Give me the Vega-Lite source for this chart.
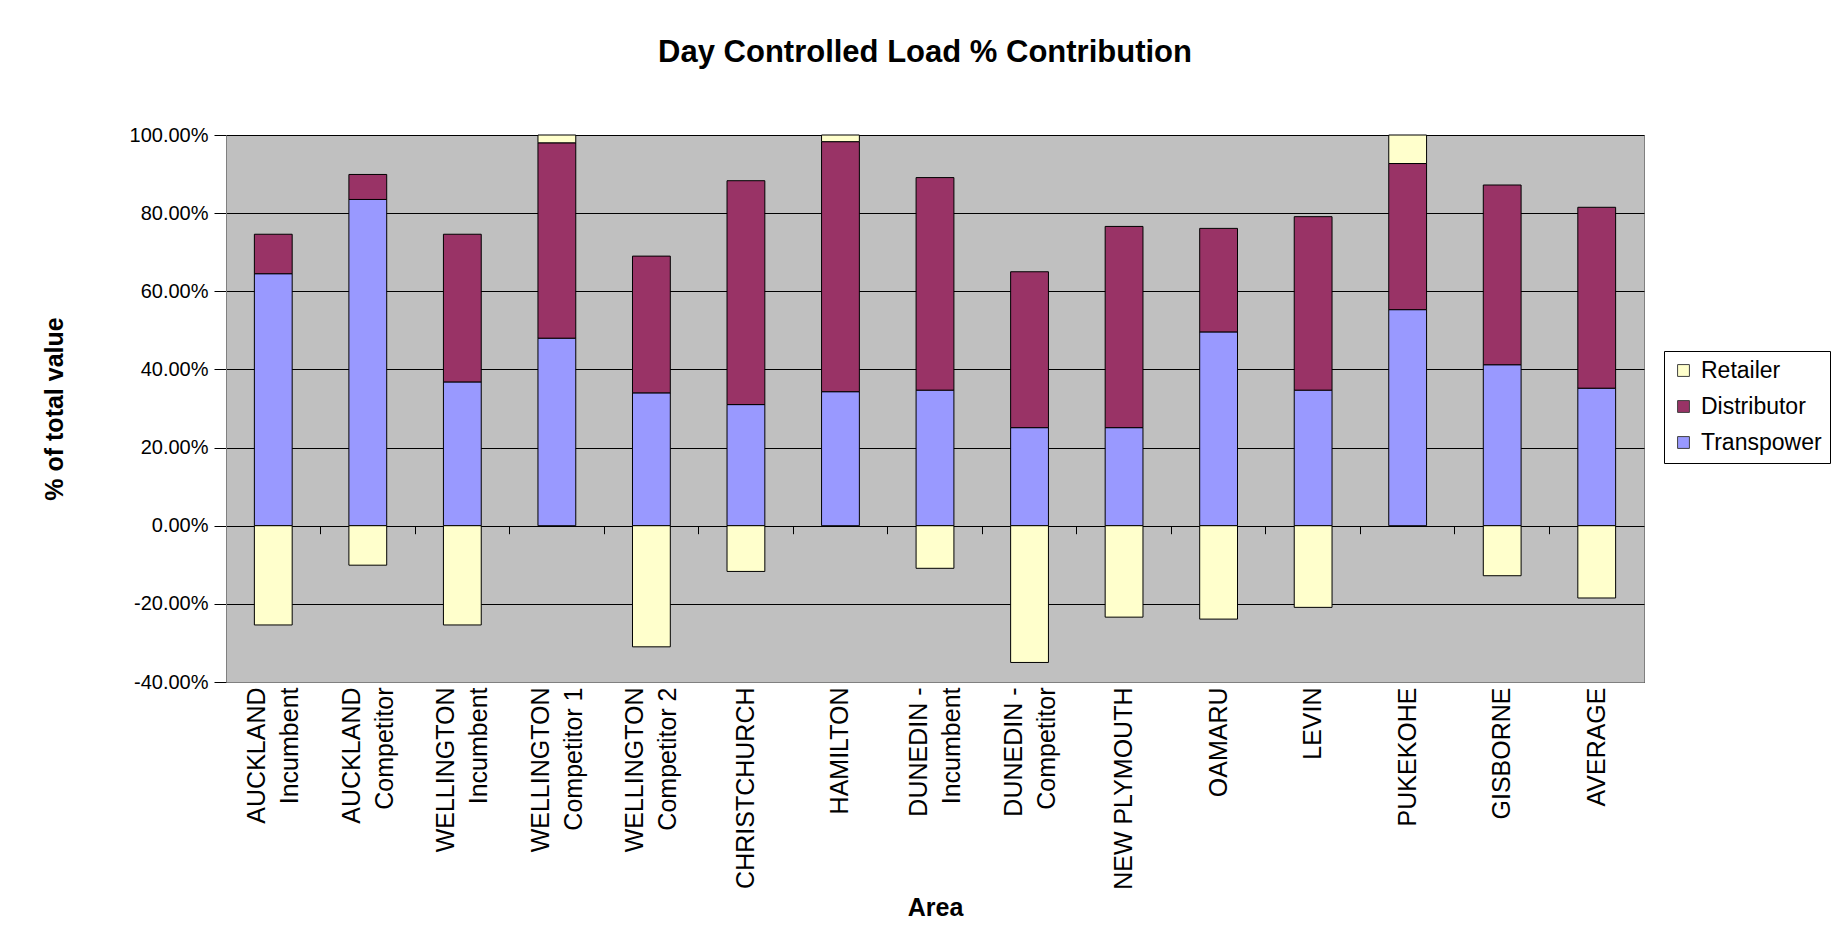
{
  "$schema": "https://vega.github.io/schema/vega-lite/v6.json",
  "width": 1418,
  "height": 547,
  "autosize": "none",
  "padding": {"left": 226, "top": 135, "right": 192, "bottom": 269},
  "background": "white",
  "title": {"text": "Day Controlled Load % Contribution", "font": "Liberation Sans", "fontSize": 31, "fontWeight": "bold", "color": "black", "offset": 56, "dx": -10},
  "data": {"values": [
    {"area": "AUCKLAND|Incumbent", "series": "Transpower", "value": 64.5},
    {"area": "AUCKLAND|Incumbent", "series": "Distributor", "value": 10.1},
    {"area": "AUCKLAND|Incumbent", "series": "Retailer", "value": -25.4},
    {"area": "AUCKLAND|Competitor", "series": "Transpower", "value": 83.5},
    {"area": "AUCKLAND|Competitor", "series": "Distributor", "value": 6.4},
    {"area": "AUCKLAND|Competitor", "series": "Retailer", "value": -10.1},
    {"area": "WELLINGTON|Incumbent", "series": "Transpower", "value": 36.8},
    {"area": "WELLINGTON|Incumbent", "series": "Distributor", "value": 37.8},
    {"area": "WELLINGTON|Incumbent", "series": "Retailer", "value": -25.4},
    {"area": "WELLINGTON|Competitor 1", "series": "Transpower", "value": 48.0},
    {"area": "WELLINGTON|Competitor 1", "series": "Distributor", "value": 50.0},
    {"area": "WELLINGTON|Competitor 1", "series": "Retailer", "value": 2.0},
    {"area": "WELLINGTON|Competitor 2", "series": "Transpower", "value": 34.0},
    {"area": "WELLINGTON|Competitor 2", "series": "Distributor", "value": 35.0},
    {"area": "WELLINGTON|Competitor 2", "series": "Retailer", "value": -31.0},
    {"area": "CHRISTCHURCH", "series": "Transpower", "value": 31.0},
    {"area": "CHRISTCHURCH", "series": "Distributor", "value": 57.3},
    {"area": "CHRISTCHURCH", "series": "Retailer", "value": -11.7},
    {"area": "HAMILTON", "series": "Transpower", "value": 34.3},
    {"area": "HAMILTON", "series": "Distributor", "value": 64.0},
    {"area": "HAMILTON", "series": "Retailer", "value": 1.7},
    {"area": "DUNEDIN -|Incumbent", "series": "Transpower", "value": 34.7},
    {"area": "DUNEDIN -|Incumbent", "series": "Distributor", "value": 54.4},
    {"area": "DUNEDIN -|Incumbent", "series": "Retailer", "value": -10.9},
    {"area": "DUNEDIN -|Competitor", "series": "Transpower", "value": 25.1},
    {"area": "DUNEDIN -|Competitor", "series": "Distributor", "value": 39.9},
    {"area": "DUNEDIN -|Competitor", "series": "Retailer", "value": -35.0},
    {"area": "NEW PLYMOUTH", "series": "Transpower", "value": 25.1},
    {"area": "NEW PLYMOUTH", "series": "Distributor", "value": 51.5},
    {"area": "NEW PLYMOUTH", "series": "Retailer", "value": -23.4},
    {"area": "OAMARU", "series": "Transpower", "value": 49.6},
    {"area": "OAMARU", "series": "Distributor", "value": 26.5},
    {"area": "OAMARU", "series": "Retailer", "value": -23.9},
    {"area": "LEVIN", "series": "Transpower", "value": 34.7},
    {"area": "LEVIN", "series": "Distributor", "value": 44.4},
    {"area": "LEVIN", "series": "Retailer", "value": -20.9},
    {"area": "PUKEKOHE", "series": "Transpower", "value": 55.3},
    {"area": "PUKEKOHE", "series": "Distributor", "value": 37.4},
    {"area": "PUKEKOHE", "series": "Retailer", "value": 7.3},
    {"area": "GISBORNE", "series": "Transpower", "value": 41.2},
    {"area": "GISBORNE", "series": "Distributor", "value": 46.0},
    {"area": "GISBORNE", "series": "Retailer", "value": -12.8},
    {"area": "AVERAGE", "series": "Transpower", "value": 35.2},
    {"area": "AVERAGE", "series": "Distributor", "value": 46.3},
    {"area": "AVERAGE", "series": "Retailer", "value": -18.5}
  ]},
  "transform": [
    {"calculate": "indexof(['Transpower','Distributor','Retailer'], datum.series)", "as": "stackOrder"}
  ],
  "layer": [
    {
      "mark": {"type": "bar", "stroke": "black", "strokeWidth": 1},
      "encoding": {
        "x": {
          "field": "area", "type": "nominal", "sort": null,
          "scale": {"paddingInner": 0.6, "paddingOuter": 0.3},
          "axis": {
            "orient": "bottom",
            "title": "Area", "titleFont": "Liberation Sans", "titleFontSize": 25, "titleFontWeight": "bold", "titleColor": "black", "titlePadding": 13,
            "labelAngle": -90, "labelExpr": "split(datum.label, '|')", "labelFont": "Liberation Sans", "labelFontSize": 25, "labelLineHeight": 33, "labelColor": "black", "labelLimit": 400,
            "labelPadding": 5, "ticks": false, "domainColor": "#808080", "labelBaseline": "middle",
            "labelOffset": {"condition": {"test": "indexof(datum.value, '|') >= 0", "value": -16}, "value": 0}
          }
        },
        "y": {
          "field": "value", "type": "quantitative", "stack": "zero",
          "scale": {"domain": [-40, 100], "nice": false, "zero": false},
          "axis": {
            "title": "% of total value", "titleFont": "Liberation Sans", "titleFontSize": 25, "titleFontWeight": "bold", "titleColor": "black", "titlePadding": 62,
            "values": [-40, -20, 0, 20, 40, 60, 80, 100],
            "labelExpr": "(datum.value < 0 ? '-' : '') + format(abs(datum.value), '.2f') + '%'",
            "labelFont": "Liberation Sans", "labelFontSize": 20, "labelColor": "black", "labelPadding": 6,
            "tickSize": 12, "tickColor": "black", "domainColor": "#808080",
            "grid": true, "gridColor": "black", "gridOpacity": 1, "gridWidth": 1
          }
        },
        "color": {
          "field": "series", "type": "nominal",
          "scale": {"domain": ["Retailer", "Distributor", "Transpower"], "range": ["#FFFFCC", "#993366", "#9999FF"]},
          "legend": {
            "orient": "none", "legendX": 1438, "legendY": 216, "title": null,
            "symbolType": "square", "symbolSize": 140, "symbolStrokeColor": "#404040", "symbolStrokeWidth": 1,
            "labelFont": "Liberation Sans", "labelFontSize": 23, "labelColor": "black", "labelOffset": 6,
            "strokeColor": "black", "fillColor": "white", "padding": 8, "rowPadding": 12
          }
        },
        "order": {"field": "stackOrder", "type": "quantitative"}
      }
    },
    {
      "mark": {"type": "point", "opacity": 0},
      "encoding": {
        "x": {
          "field": "area", "type": "nominal", "sort": null,
          "axis": {
            "orient": "top", "offset": -390.7, "title": null, "labels": false, "domain": false,
            "ticks": true, "bandPosition": -0.75, "tickSize": -8, "tickColor": "black", "tickWidth": 1
          }
        }
      }
    }
  ],
  "resolve": {"axis": {"x": "independent"}},
  "config": {"view": {"fill": "#C0C0C0", "stroke": "#808080"}}
}
